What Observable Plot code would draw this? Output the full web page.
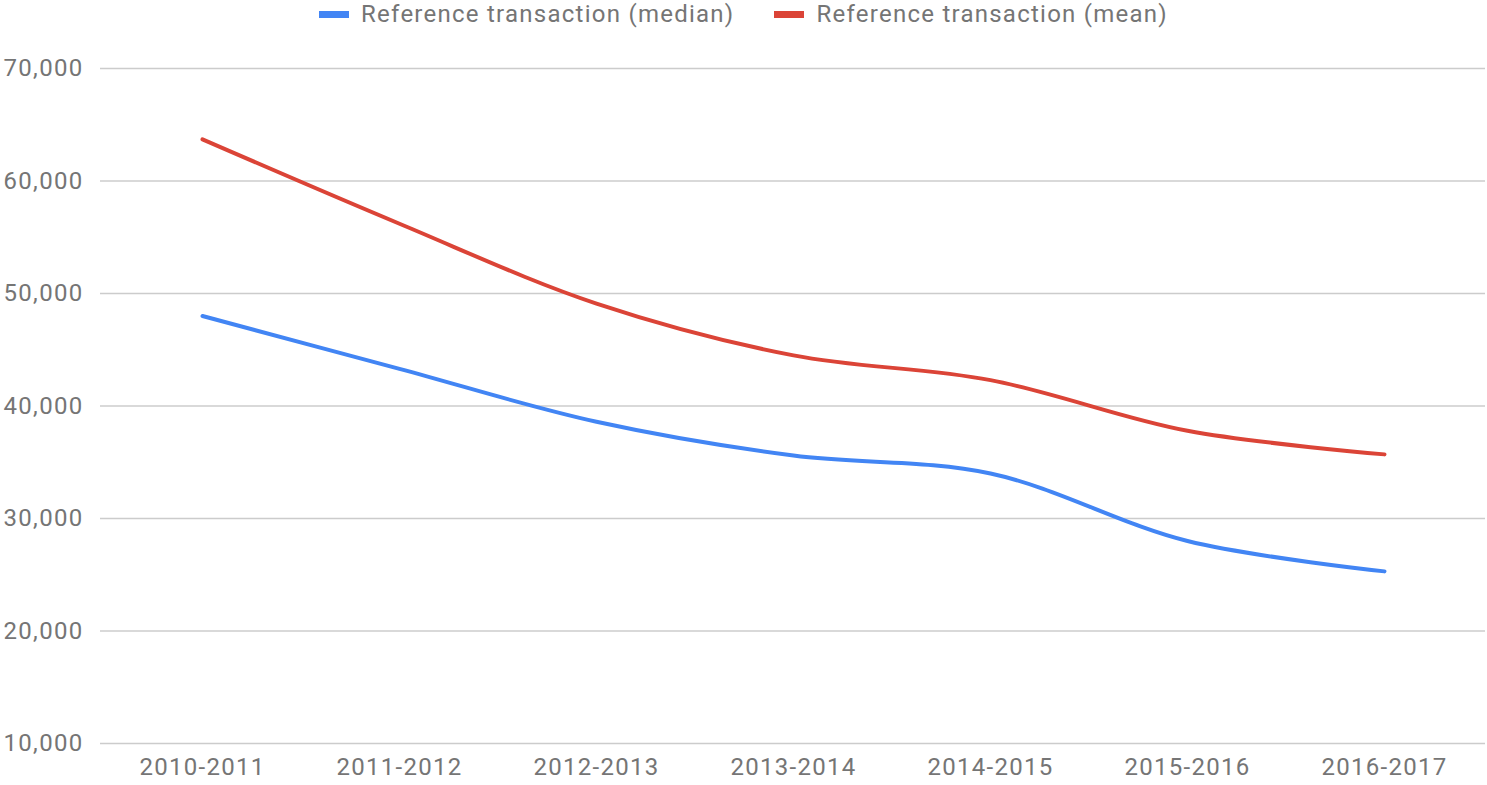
<!DOCTYPE html>
<html>
<head>
<meta charset="utf-8">
<script src="https://cdn.jsdelivr.net/npm/d3@7"></script>
<script src="https://cdn.jsdelivr.net/npm/@observablehq/plot@0.6"></script>
<style>
  html, body { margin: 0; padding: 0; background: #fff; }
  body { width: 1487px; height: 785px; overflow: hidden; font-family: Roboto, "Noto Sans", sans-serif; }
  #legend { height: 32px; display: flex; justify-content: center; align-items: center; gap: 40px; font-size: 24px; color: #757575; letter-spacing: 1.25px; }
  .item { display: flex; align-items: center; gap: 12px; }
  .sw { width: 30px; height: 7px; display: inline-block; margin-top: -4px; }
  #legend span.t { line-height: 30px; position: relative; top: -2px; }
  svg text { letter-spacing: 1.3px; }
</style>
</head>
<body>
<div id="legend"></div>
<div id="chart"></div>
<script>
const categories = ["2010-2011","2011-2012","2012-2013","2013-2014","2014-2015","2015-2016","2016-2017"];
const medianValues = [48000, 43300, 38600, 35600, 34000, 28000, 25300];
const meanValues = [63700, 56200, 49100, 44500, 42300, 37800, 35700];
const seriesNames = ["Reference transaction (median)", "Reference transaction (mean)"];
const seriesColors = ["#4285F4", "#DB4437"];
const yTicks = [10000, 20000, 30000, 40000, 50000, 60000, 70000];

const data = [];
categories.forEach((c, i) => {
  data.push({cat: c, value: medianValues[i], series: seriesNames[0]});
  data.push({cat: c, value: meanValues[i], series: seriesNames[1]});
});

const legend = document.getElementById("legend");
seriesNames.forEach((n, i) => {
  const it = document.createElement("div");
  it.className = "item";
  it.innerHTML = `<span class="sw" style="background:${seriesColors[i]}"></span><span class="t">${n}</span>`;
  legend.appendChild(it);
});

const chart = Plot.plot({
  width: 1487,
  height: 753,
  marginTop: 36,
  marginBottom: 42,
  marginLeft: 100,
  marginRight: 2,
  style: {fontFamily: "Roboto, sans-serif", fontSize: "24px", color: "#757575", background: "#fff"},
  x: {type: "point", domain: categories, padding: 0.5, label: null},
  y: {domain: [10000, 70000], label: null},
  color: {domain: seriesNames, range: seriesColors},
  marks: [
    Plot.ruleY(yTicks, {stroke: "#cccccc", strokeWidth: 1.6}),
    Plot.axisY({ticks: yTicks, tickFormat: d3.format(","), tickSize: 0, tickPadding: 17, label: null, fontSize: 24}),
    Plot.axisX({tickSize: 0, tickPadding: 14, label: null, fontSize: 24}),
    Plot.line(data, {x: "cat", y: "value", z: "series", stroke: "series", strokeWidth: 4, curve: "catmull-rom"})
  ]
});
document.getElementById("chart").appendChild(chart);
</script>
</body>
</html>
